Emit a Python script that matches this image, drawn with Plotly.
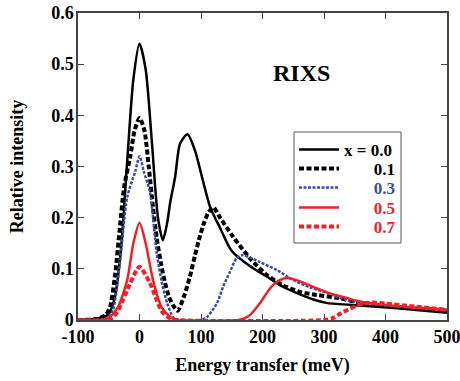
import plotly.graph_objects as go

# ---- data ----
x_00 = [-100, -75, -60, -50, -40, -30, -20, -10, 0, 10, 20, 30, 38, 45, 50, 58, 66, 78, 90, 103, 115, 131, 150, 180, 207, 233, 261, 288, 306, 363, 419, 500]
y_00 = [0, 0.002, 0.005, 0.012, 0.045, 0.14, 0.31, 0.47, 0.54, 0.49, 0.35, 0.2, 0.156, 0.19, 0.23, 0.28, 0.345, 0.363, 0.332, 0.273, 0.22, 0.18, 0.135, 0.105, 0.085, 0.065, 0.05, 0.038, 0.033, 0.028, 0.023, 0.014]

x_01 = [-100, -70, -55, -48, -40, -32, -25, -15, -8, 0, 8, 15, 22, 28, 35, 41, 48, 55, 62, 72, 82, 90, 98, 105, 112, 120, 131, 152, 180, 207, 233, 261, 288, 323, 363, 419, 500]
y_01 = [0, 0.002, 0.01, 0.025, 0.085, 0.18, 0.26, 0.32, 0.37, 0.395, 0.37, 0.3, 0.22, 0.16, 0.11, 0.075, 0.045, 0.028, 0.018, 0.045, 0.085, 0.125, 0.163, 0.19, 0.21, 0.22, 0.2, 0.163, 0.12, 0.088, 0.068, 0.055, 0.049, 0.043, 0.033, 0.026, 0.018]

x_03 = [-100, -60, -50, -43, -32, -20, -7, 0, 7, 17, 28, 37, 45, 55, 65, 100, 110, 126, 136, 147, 158, 168, 180, 196, 223, 250, 277, 305, 337, 391, 500]
y_03 = [0, 0.001, 0.006, 0.02, 0.11, 0.24, 0.29, 0.32, 0.29, 0.25, 0.13, 0.07, 0.033, 0.005, 0, 0, 0.006, 0.033, 0.065, 0.094, 0.121, 0.127, 0.122, 0.113, 0.098, 0.078, 0.064, 0.053, 0.039, 0.029, 0.021]

x_05 = [-100, -60, -48, -35, -20, -10, 0, 10, 22, 36, 50, 60, 160, 170, 180, 196, 207, 217, 228, 240, 260, 282, 310, 337, 363, 419, 500]
y_05 = [0, 0, 0.006, 0.025, 0.078, 0.15, 0.19, 0.15, 0.078, 0.025, 0.006, 0, 0, 0.003, 0.01, 0.033, 0.053, 0.068, 0.078, 0.082, 0.076, 0.065, 0.052, 0.043, 0.035, 0.027, 0.02]

x_07 = [-100, -55, -45, -37, -27, -15, 0, 17, 28, 38, 50, 60, 300, 315, 326, 342, 353, 363, 380, 400, 450, 500]
y_07 = [0, 0, 0.004, 0.014, 0.039, 0.072, 0.104, 0.072, 0.039, 0.014, 0.003, 0, 0, 0.004, 0.012, 0.022, 0.028, 0.032, 0.034, 0.032, 0.026, 0.02]

x_ticks = [-100, 0, 100, 200, 300, 400, 500]
x_ticktext = ["-100", "0", "100", "200", "300", "400", "500"]
y_ticks = [0, 0.1, 0.2, 0.3, 0.4, 0.5, 0.6]
y_ticktext = ["0", "0.1", "0.2", "0.3", "0.4", "0.5", "0.6"]
legend_labels = ["x = 0.0", "0.1", "0.3", "0.5", "0.7"]

BLACK = "#000000"
BLUE = "#3a4da3"
RED = "#ee2128"
NB = "\u00a0"
FONT = "Liberation Serif"

series = [
    (x_00, y_00, BLACK, "solid", 2.5),
    (x_01, y_01, BLACK, "5px,2.5px", 4),
    (x_03, y_03, BLUE, "3px,1.5px", 2.5),
    (x_05, y_05, RED, "solid", 2.5),
    (x_07, y_07, RED, "5px,2.5px", 4),
]

# plot area in pixels: left 78, right 447, top 13, bottom 320
L, R, T, B = 78, 447, 13, 320
def px(xp):
    return (xp - L) / (R - L)
def py(yp):
    return (B - yp) / (B - T)

row_y = [150, 169, 188, 208, 227]

fig = go.Figure()
layout_legends = {}
for i, ((xs, ys, col, dash, w), lab) in enumerate(zip(series, legend_labels)):
    key = "legend" if i == 0 else "legend%d" % (i + 1)
    if i == 0:
        name = lab
    else:
        name = NB * 7 + "<span style='color:%s'>%s</span>" % (col, lab)
    fig.add_trace(go.Scatter(
        x=xs, y=ys, name=name, mode="lines", legend=key,
        line=dict(color=col, width=w, dash=dash, shape="spline", smoothing=0.7),
        cliponaxis=False,
    ))
    layout_legends[key] = dict(
        x=px(294), y=py(row_y[i]), xanchor="left", yanchor="middle",
        bgcolor="rgba(0,0,0,0)", borderwidth=0,
        font=dict(family=FONT, size=17, color="black", weight="bold"),
        itemwidth=40,
    )

axis_common = dict(
    showline=True, linecolor="#444", linewidth=1.5, mirror="ticks",
    ticks="inside", ticklen=6, tickwidth=1.2, tickcolor="#444",
    showgrid=False, zeroline=False, automargin=False,
    tickfont=dict(family=FONT, size=18, color="black", weight="bold"),
    layer="below traces", ticklabeloverflow="allow",
)

fig.update_xaxes(
    range=[-100, 500], tickvals=x_ticks, ticktext=x_ticktext, ticklabelstandoff=0,
    title=dict(text="Energy transfer (meV)", standoff=12,
               font=dict(family=FONT, size=18, color="black", weight="bold")),
    **axis_common,
)
fig.update_yaxes(
    range=[0, 0.6], tickvals=y_ticks, ticktext=y_ticktext, ticklabelstandoff=-1,
    title=dict(text="Relative intensity", standoff=23,
               font=dict(family=FONT, size=18, color="black", weight="bold")),
    **axis_common,
)

fig.add_annotation(
    x=px(332), y=py(58), xref="paper", yref="paper", text="RIXS", showarrow=False,
    font=dict(family=FONT, size=24, color="black", weight="bold"),
)

# legend frame
fig.add_shape(
    type="rect", xref="paper", yref="paper",
    x0=px(294), x1=px(401), y0=py(243), y1=py(132),
    line=dict(color="#555", width=1), fillcolor="white", layer="below",
)

fig.update_layout(
    width=460, height=381,
    margin=dict(l=L, r=460 - R, t=T, b=381 - B),
    paper_bgcolor="white", plot_bgcolor="white",
    showlegend=True,
    **layout_legends,
)

fig.write_html("out.html")
